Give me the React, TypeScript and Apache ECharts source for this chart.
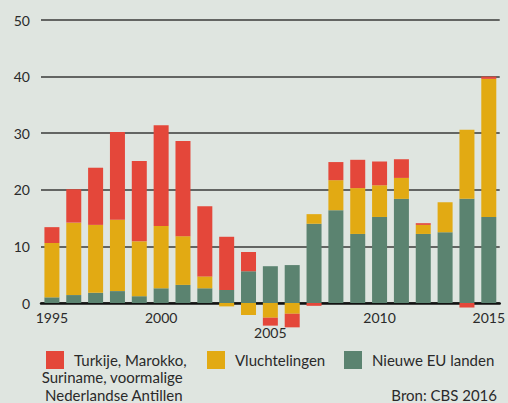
import React, { useEffect, useRef } from "react";
import * as echarts from "echarts";

const years = [
  "1995", "1996", "1997", "1998", "1999", "2000", "2001", "2002", "2003", "2004",
  "2005", "2006", "2007", "2008", "2009", "2010", "2011", "2012", "2013", "2014", "2015",
];
const nieuweEU = [1.0, 1.4, 1.8, 2.1, 1.2, 2.6, 3.2, 2.6, 2.3, 5.6, 6.5, 6.7, 14.0, 16.4, 12.2, 15.2, 18.4, 12.2, 12.5, 18.4, 15.2];
const vluchtelingen = [9.6, 12.8, 12.0, 12.6, 9.7, 11.0, 8.6, 2.1, -0.6, -2.1, -2.6, -1.9, 1.7, 5.3, 8.1, 5.6, 3.7, 1.6, 5.3, 12.2, 24.4];
const turkije = [2.8, 5.9, 10.1, 15.5, 14.2, 17.8, 16.8, 12.4, 9.4, 3.4, -1.4, -2.4, -0.5, 3.2, 5.0, 4.2, 3.3, 0.3, 0, -0.8, 0.4];
const shownYears = ["1995", "2000", "2005", "2010", "2015"];

const NAME_T = "Turkije, Marokko, Suriname, voormalige Nederlandse Antillen";
const NAME_V = "Vluchtelingen";
const NAME_N = "Nieuwe EU landen";

const RED = "#e4473a";
const YELLOW = "#e2aa13";
const GREEN = "#5b8370";
const BG = "#dfe5e0";
const FONT = "Lato";
const TXT = "#2a2a2a";

export default function App() {
  const ref = useRef<HTMLDivElement>(null);
  useEffect(() => {
    if (!ref.current) return;
    const chart = echarts.init(ref.current, null, { renderer: "svg" });
    const legendBase = {
      top: 346,
      itemWidth: 18,
      itemHeight: 18,
      icon: "rect",
      orient: "horizontal" as const,
      textStyle: { fontFamily: FONT, fontSize: 15, lineHeight: 16, color: TXT, padding: [0, 0, 0, 5] },
      selectedMode: false,
    };
    const noteText = (text: string, top: number) => ({
      type: "text",
      right: 325,
      top,
      style: { text, fontFamily: FONT, fontSize: 15, lineHeight: 16, fill: TXT, align: "right" },
    });
    chart.setOption({
      animation: false,
      backgroundColor: BG,
      textStyle: { fontFamily: FONT },
      grid: { left: 41, right: 7, top: 20, bottom: 43.4, containLabel: false },
      legend: [
        { ...legendBase, left: 41, data: [NAME_T], formatter: () => "Turkije, Marokko," },
        { ...legendBase, left: 202, data: [NAME_V] },
        { ...legendBase, left: 339, data: [NAME_N] },
      ],
      graphic: [
        noteText("Suriname, voormalige", 369),
        noteText("Nederlandse Antillen", 387),
        {
          type: "text",
          right: 11,
          top: 387,
          style: { text: "Bron: CBS 2016", fontFamily: FONT, fontSize: 15, lineHeight: 16, fill: TXT, align: "right" },
        },
      ],
      xAxis: {
        type: "category",
        data: years,
        axisLine: { onZero: true, lineStyle: { color: "#111", width: 2.5 } },
        axisTick: { show: false },
        axisLabel: {
          interval: (_i: number, v: string) => shownYears.includes(v),
          margin: -49,
          fontFamily: FONT,
          fontSize: 14,
          color: TXT,
          formatter: (v: string) => (v === "2005" ? "{low|2005}" : v),
          rich: {
            low: { padding: [15, 0, 0, 0], fontFamily: FONT, fontSize: 14, color: TXT },
          },
        },
      },
      yAxis: {
        type: "value",
        min: -10,
        max: 50,
        interval: 10,
        axisLine: { show: false },
        axisTick: { show: false },
        axisLabel: {
          margin: 11,
          fontFamily: FONT,
          fontSize: 14,
          color: TXT,
          formatter: (v: number) => (v < 0 ? "" : String(v)),
        },
        splitLine: { showMinLine: false, lineStyle: { color: "#3a3a3a", width: 1.5 } },
      },
      series: [
        { name: NAME_N, type: "bar", stack: "total", barWidth: 15, data: nieuweEU, itemStyle: { color: GREEN } },
        { name: NAME_V, type: "bar", stack: "total", barWidth: 15, data: vluchtelingen, itemStyle: { color: YELLOW } },
        { name: NAME_T, type: "bar", stack: "total", barWidth: 15, data: turkije, itemStyle: { color: RED } },
      ],
    });
    return () => chart.dispose();
  }, []);
  return <div ref={ref} style={{ width: 508, height: 403, position: "absolute", left: 0, top: 0 }} />;
}
